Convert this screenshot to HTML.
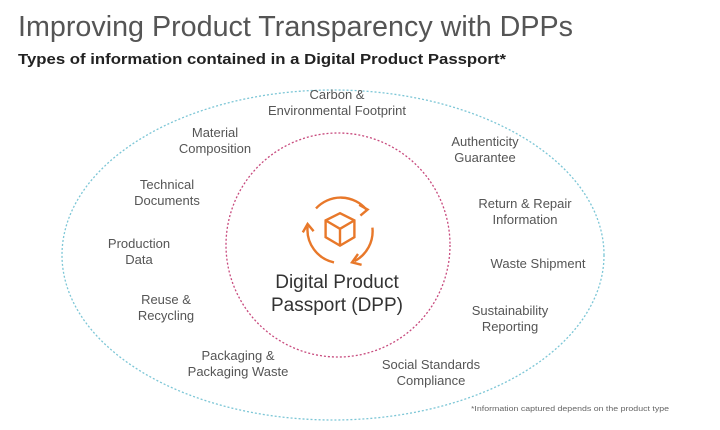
<!DOCTYPE html>
<html><head><meta charset="utf-8"><style>
html,body{margin:0;padding:0;background:#fff;}
svg{display:block;}
text{font-family:"Liberation Sans",sans-serif;}
.l{font-size:13px;fill:#555;text-anchor:middle;}
</style></head><body>
<svg width="720" height="430" viewBox="0 0 720 430">
<text x="18" y="36" font-size="29" fill="#555" textLength="555" lengthAdjust="spacingAndGlyphs">Improving Product Transparency with DPPs</text>
<text x="18" y="64" font-size="15" font-weight="bold" fill="#222" textLength="488" lengthAdjust="spacingAndGlyphs">Types of information contained in a Digital Product Passport*</text>
<ellipse cx="333" cy="255" rx="271" ry="165" fill="none" stroke="#7cc6d6" stroke-width="1.3" stroke-dasharray="2,2"/>
<circle cx="338" cy="245" r="112" fill="none" stroke="#c84b7e" stroke-width="1.3" stroke-dasharray="2,2"/>
<g fill="none" stroke="#e8782a" stroke-width="2" transform="translate(340,230) scale(1.2) translate(-340,-230)">
<path d="M320 212 A28 28 0 0 1 362 213"/><path d="M356 209 L363 213 L357 218"/>
<path d="M367 228 A28 28 0 0 1 352 256"/><path d="M355 250 L350 257 L358 259"/>
<path d="M335 257 A28 28 0 0 1 313 227"/><path d="M309 232 L313 225 L318 231"/>
<path d="M340 216 L352 222 L352 236 L340 243 L328 236 L328 222 Z M328 222 L340 229 L352 222 M340 229 L340 243"/>
</g>
<text x="337" y="288" font-size="19" fill="#333" text-anchor="middle">Digital Product</text>
<text x="337" y="311" font-size="19" fill="#333" text-anchor="middle">Passport (DPP)</text>
<text class="l" x="337" y="99">Carbon &amp;</text><text class="l" x="337" y="115">Environmental Footprint</text>
<text class="l" x="215" y="137">Material</text><text class="l" x="215" y="153">Composition</text>
<text class="l" x="167" y="189">Technical</text><text class="l" x="167" y="205">Documents</text>
<text class="l" x="139" y="248">Production</text><text class="l" x="139" y="264">Data</text>
<text class="l" x="166" y="304">Reuse &amp;</text><text class="l" x="166" y="320">Recycling</text>
<text class="l" x="238" y="360">Packaging &amp;</text><text class="l" x="238" y="376">Packaging Waste</text>
<text class="l" x="431" y="369">Social Standards</text><text class="l" x="431" y="385">Compliance</text>
<text class="l" x="485" y="146">Authenticity</text><text class="l" x="485" y="162">Guarantee</text>
<text class="l" x="525" y="208">Return &amp; Repair</text><text class="l" x="525" y="224">Information</text>
<text class="l" x="538" y="268">Waste Shipment</text>
<text class="l" x="510" y="315">Sustainability</text><text class="l" x="510" y="331">Reporting</text>
<text x="570" y="411" font-size="7" fill="#666" text-anchor="middle" textLength="198" lengthAdjust="spacingAndGlyphs">*Information captured depends on the product type</text>
</svg>
</body></html>
